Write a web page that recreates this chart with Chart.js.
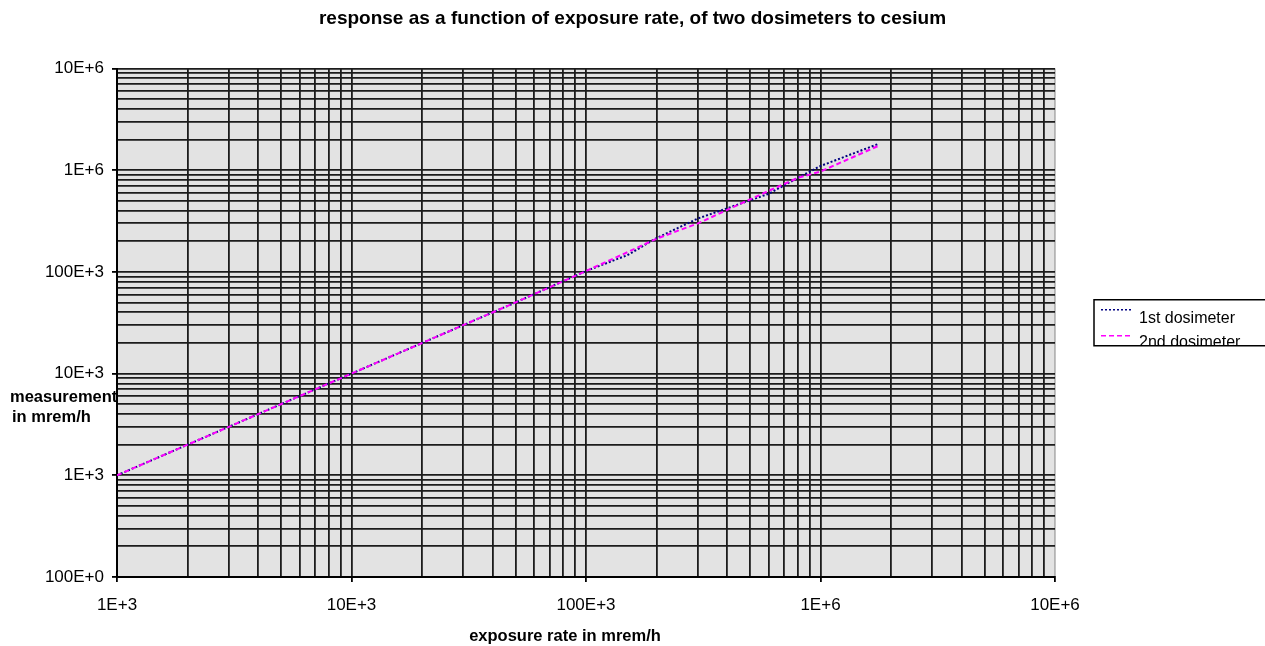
<!DOCTYPE html>
<html>
<head>
<meta charset="utf-8">
<title>response as a function of exposure rate</title>
<script src="https://cdn.jsdelivr.net/npm/chart.js@4.4.1/dist/chart.umd.min.js"></script>
<style>
  html, body { margin: 0; padding: 0; background: #fff; }
  #wrap { width: 1265px; height: 646px; position: relative; }
</style>
</head>
<body>
<div id="wrap"><canvas id="chart"></canvas></div>
<script>
const chartTitle = "response as a function of exposure rate, of two dosimeters to cesium";
const xTitle = "exposure rate in mrem/h";
const yTitleLines = ["measurement", "in mrem/h"];
const seriesNames = ["1st dosimeter", "2nd dosimeter"];

// exposure rate (mrem/h) and the two readings
const exposureRate = [1e3, 2e3, 5e3, 1e4, 2e4, 5e4, 1e5, 1.5e5, 2e5, 3e5, 6e5, 8e5, 1e6, 1.75e6];
const firstDosimeter = [1e3, 2e3, 5e3, 1e4, 2e4, 5e4, 1.02e5, 1.46e5, 2.15e5, 3.35e5, 5.85e5, 8.4e5, 1.1e6, 1.8e6];
const secondDosimeter = [1e3, 2e3, 5e3, 1e4, 2e4, 5e4, 1.02e5, 1.56e5, 2.12e5, 3.0e5, 6.25e5, 8.4e5, 0.97e6, 1.72e6];

const xTickLabels = ["1E+3", "10E+3", "100E+3", "1E+6", "10E+6"];
const yTickLabels = ["100E+0", "1E+3", "10E+3", "100E+3", "1E+6", "10E+6"];
const xRange = [1e3, 1e7];
const yRange = [1e2, 1e7];

const FONT = '"Liberation Sans", Arial, sans-serif';
const GRID = "#1c1c1c";

const isDecade = (v) => Math.abs(Math.log10(v) - Math.round(Math.log10(v))) < 1e-9;

// 1..9 x 10^n for every decade, so every minor line gets drawn
const decadeTicks = (min, max) => {
  const ticks = [];
  const lo = Math.round(Math.log10(min));
  const hi = Math.round(Math.log10(max));
  for (let e = lo; e < hi; e += 1) {
    for (let m = 1; m < 10; m += 1) ticks.push({ value: m * Math.pow(10, e) });
  }
  ticks.push({ value: max });
  return ticks;
};

const decadeLabel = (labels, min) => (value) =>
  isDecade(value) ? labels[Math.round(Math.log10(value)) - Math.round(Math.log10(min))] : "";

const plotBackground = {
  id: "plotBackground",
  beforeDraw(chart) {
    const { ctx, chartArea: a } = chart;
    ctx.save();
    ctx.fillStyle = "#e3e3e3";
    ctx.fillRect(a.left, a.top, a.right - a.left, a.bottom - a.top);
    ctx.restore();
  }
};

const axisTitles = {
  id: "axisTitles",
  afterDraw(chart) {
    const { ctx, chartArea: a } = chart;
    ctx.save();
    ctx.fillStyle = "#000";
    ctx.font = `bold 16.5px ${FONT}`;
    ctx.textBaseline = "middle";
    ctx.textAlign = "left";
    ctx.fillText(yTitleLines[0], 10, a.bottom - 180);
    ctx.fillText(yTitleLines[1], 12, a.bottom - 160);
    ctx.textAlign = "center";
    ctx.fillText(xTitle, (a.left + a.right) / 2 - 21, chart.height - 10);
    ctx.restore();
  }
};

const legendBox = {
  id: "legendBox",
  afterDraw(chart) {
    const { ctx, chartArea: a } = chart;
    const x = a.right + 39;
    const y = (a.top + a.bottom) / 2 - 23;
    const w = 172;
    const h = 46;
    ctx.save();
    ctx.fillStyle = "#fff";
    ctx.fillRect(x, y, w, h);
    ctx.beginPath();
    ctx.rect(x, y, w, h);
    ctx.clip();
    chart.data.datasets.forEach((ds, i) => {
      const ly = y + 10 + i * 26;
      ctx.strokeStyle = ds.borderColor;
      ctx.lineWidth = 1.5;
      ctx.setLineDash(ds.borderDash);
      ctx.beginPath();
      ctx.moveTo(x + 7, ly);
      ctx.lineTo(x + 38, ly);
      ctx.stroke();
      ctx.setLineDash([]);
      ctx.fillStyle = "#000";
      ctx.font = `16px ${FONT}`;
      ctx.textAlign = "left";
      ctx.textBaseline = "alphabetic";
      ctx.fillText(ds.label, x + 45, y + 23 + i * 24);
    });
    ctx.restore();
    ctx.save();
    ctx.strokeStyle = "#000";
    ctx.lineWidth = 1.5;
    ctx.strokeRect(x, y, w, h);
    ctx.restore();
  }
};

const points = (ys) => exposureRate.map((x, i) => ({ x, y: ys[i] }));

new Chart(document.getElementById("chart"), {
  type: "line",
  data: {
    datasets: [
      {
        label: seriesNames[0],
        data: points(firstDosimeter),
        borderColor: "#000080",
        borderWidth: 2,
        borderDash: [2, 2],
        pointRadius: 0,
        tension: 0,
        order: 1,
        xAxisID: "x",
        yAxisID: "y"
      },
      {
        label: seriesNames[1],
        data: points(secondDosimeter),
        borderColor: "#ff00ff",
        borderWidth: 2,
        borderDash: [5, 3],
        pointRadius: 0,
        tension: 0,
        order: 0,
        xAxisID: "x",
        yAxisID: "y"
      }
    ]
  },
  options: {
    responsive: true,
    maintainAspectRatio: false,
    animation: false,
    devicePixelRatio: 1,
    layout: { padding: 0 },
    plugins: {
      legend: { display: false },
      tooltip: { enabled: false },
      title: {
        display: true,
        text: chartTitle,
        color: "#000",
        font: { family: FONT, size: 19, weight: "bold" },
        padding: { top: 7, bottom: 38.7 }
      }
    },
    scales: {
      x: {
        type: "logarithmic",
        position: "bottom",
        min: xRange[0],
        max: xRange[1],
        afterBuildTicks: (scale) => { scale.ticks = decadeTicks(xRange[0], xRange[1]); },
        afterFit: (scale) => { scale.height = 69; },
        ticks: {
          autoSkip: false,
          maxRotation: 0,
          color: "#000",
          padding: 13,
          font: { family: FONT, size: 17 },
          callback: decadeLabel(xTickLabels, xRange[0])
        },
        grid: {
          color: (c) => (c.tick && c.tick.value === xRange[1] ? "#b4b4b4" : GRID),
          lineWidth: 1.8,
          tickLength: 5,
          tickColor: (c) => (c.tick && isDecade(c.tick.value) ? "#000" : "rgba(0,0,0,0)")
        },
        border: { color: "#000", width: 2 }
      },
      y: {
        type: "logarithmic",
        position: "left",
        min: yRange[0],
        max: yRange[1],
        afterBuildTicks: (scale) => { scale.ticks = decadeTicks(yRange[0], yRange[1]); },
        afterFit: (scale) => { scale.width = 117; },
        ticks: {
          autoSkip: false,
          color: "#000",
          padding: 8,
          font: { family: FONT, size: 17 },
          callback: decadeLabel(yTickLabels, yRange[0])
        },
        grid: {
          color: GRID,
          lineWidth: 1.8,
          tickLength: 5,
          tickColor: (c) => (c.tick && isDecade(c.tick.value) ? "#000" : "rgba(0,0,0,0)")
        },
        border: { color: "#000", width: 2 }
      },
      yspace: {
        type: "linear",
        position: "right",
        display: true,
        grid: { display: false },
        border: { display: false },
        ticks: { display: false },
        afterFit: (scale) => { scale.width = 210; }
      }
    }
  },
  plugins: [plotBackground, axisTitles, legendBox]
});
</script>
</body>
</html>
